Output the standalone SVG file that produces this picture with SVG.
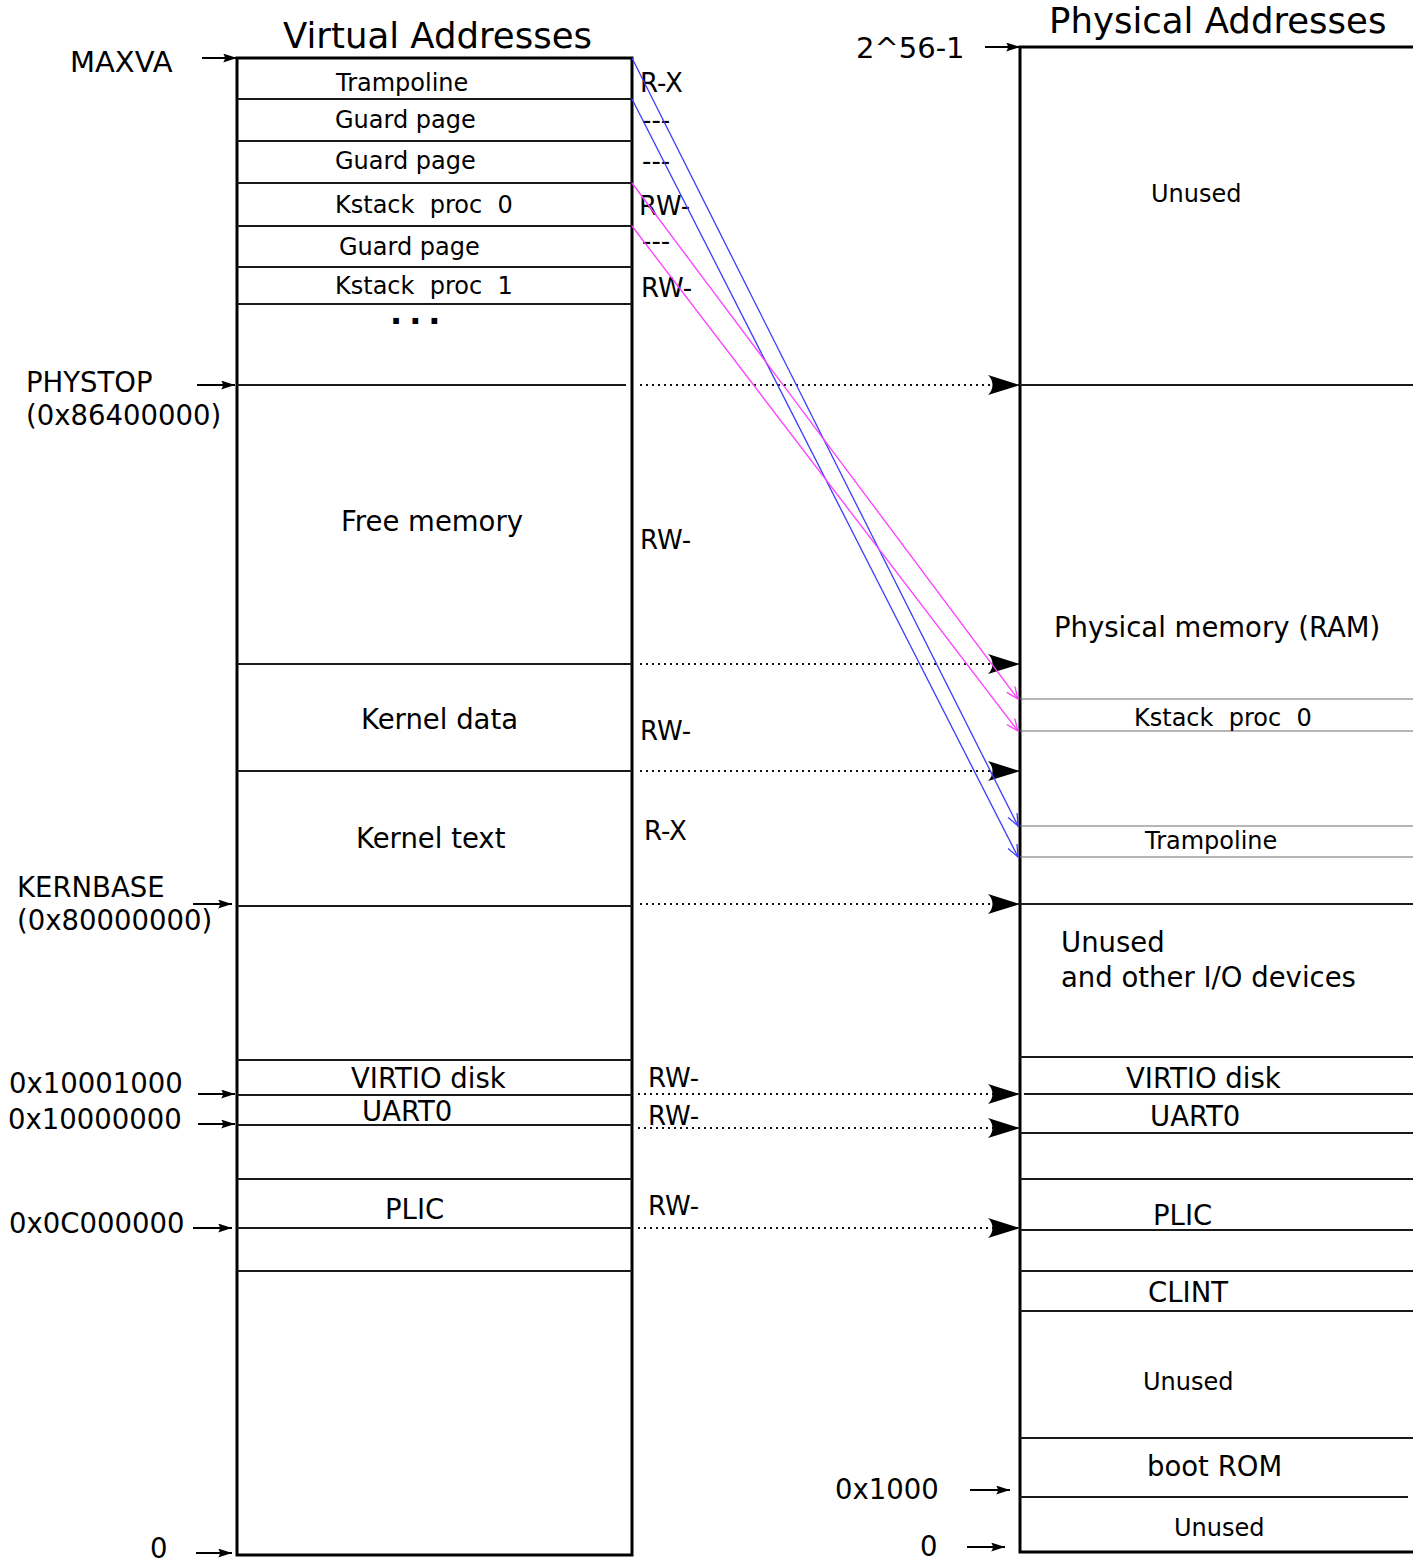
<svg xmlns="http://www.w3.org/2000/svg" width="1413" height="1562" viewBox="0 0 1413 1562">
<defs>
<style>
text { font-family: "DejaVu Sans", "Liberation Sans", sans-serif; fill: #000; }
.s24 { font-size: 24px; }
.s26 { font-size: 26px; }
.s27 { font-size: 27.5px; }
.s28 { font-size: 29px; }
.s35 { font-size: 35.5px; }
.frame { stroke: #000; stroke-width: 3; fill: none; }
.div { stroke: #1a1a1a; stroke-width: 2; fill: none; }
.thin { stroke: #6e6e6e; stroke-width: 1.2; fill: none; }
.dot { stroke: #111; stroke-width: 2.2; stroke-dasharray: 2 4; fill: none; marker-end: url(#big); }
.lbl { stroke: #000; stroke-width: 2; fill: none; marker-end: url(#small); }
.blue { stroke: #3c3cff; stroke-width: 1.3; fill: none; marker-end: url(#vb); }
.mag { stroke: #ff3cff; stroke-width: 1.3; fill: none; marker-end: url(#vm); }
</style>
<marker id="big" markerUnits="userSpaceOnUse" viewBox="0 0 32 20" refX="32" refY="10" markerWidth="32" markerHeight="20" orient="auto">
<path d="M32,10 L0,0 C6,6 6,14 0,20 Z" fill="#000"/>
</marker>
<marker id="small" markerUnits="userSpaceOnUse" viewBox="0 0 14 9" refX="14" refY="4.5" markerWidth="14" markerHeight="9" orient="auto">
<path d="M14,4.5 L0,0 C2.5,3 2.5,6 0,9 Z" fill="#000"/>
</marker>
<marker id="vb" markerUnits="userSpaceOnUse" viewBox="0 0 14 12" refX="13" refY="6" markerWidth="14" markerHeight="12" orient="auto">
<path d="M1,1 L13,6 L1,11" fill="none" stroke="#3c3cff" stroke-width="1.3"/>
</marker>
<marker id="vm" markerUnits="userSpaceOnUse" viewBox="0 0 14 12" refX="13" refY="6" markerWidth="14" markerHeight="12" orient="auto">
<path d="M1,1 L13,6 L1,11" fill="none" stroke="#ff3cff" stroke-width="1.3"/>
</marker>
</defs>
<rect width="1413" height="1562" fill="#fff"/>

<g id="titles">
<text class="s35" x="283" y="48">Virtual Addresses</text>
<text class="s35" x="1049" y="33">Physical Addresses</text>
</g>

<g id="virtual-column">
<rect class="frame" x="237" y="58" width="395" height="1497"/>
<path class="div" d="M237,99H632 M237,141H632 M237,183H632 M237,226H632 M237,267H632 M237,304H632 M237,385H626 M237,664H632 M237,771H632 M237,906H632 M237,1060H632 M237,1095H632 M237,1125H632 M237,1179H632 M237,1228H632 M237,1271H632"/>
</g>

<g id="va-trampoline"><text class="s24" x="336" y="91">Trampoline</text><text class="s26" x="640" y="92">R-X</text></g>
<g id="va-guard1"><text class="s24" x="335" y="128">Guard page</text><text class="s26" x="642" y="129">---</text></g>
<g id="va-guard2"><text class="s24" x="335" y="169">Guard page</text><text class="s26" x="642" y="170">---</text></g>
<g id="va-kstack0"><text class="s24" x="335" y="213" xml:space="preserve">Kstack  proc  0</text><text class="s26" x="639" y="215">RW-</text></g>
<g id="va-guard3"><text class="s24" x="339" y="255">Guard page</text><text class="s26" x="642" y="250">---</text></g>
<g id="va-kstack1"><text class="s24" x="335" y="294" xml:space="preserve">Kstack  proc  1</text><text class="s26" x="641" y="297">RW-</text></g>
<g id="va-more"><text x="390" y="324" font-size="32" font-weight="bold" letter-spacing="7">...</text></g>
<g id="va-free"><text class="s27" x="341" y="531">Free memory</text><text class="s26" x="640" y="549">RW-</text></g>
<g id="va-kdata"><text class="s27" x="361" y="729">Kernel data</text><text class="s26" x="640" y="740">RW-</text></g>
<g id="va-ktext"><text class="s27" x="356" y="848">Kernel text</text><text class="s26" x="644" y="840">R-X</text></g>
<g id="va-virtio"><text class="s27" x="351" y="1088">VIRTIO disk</text><text class="s26" x="648" y="1087">RW-</text></g>
<g id="va-uart"><text class="s27" x="362" y="1121">UART0</text><text class="s26" x="648" y="1125">RW-</text></g>
<g id="va-plic"><text class="s27" x="385" y="1219">PLIC</text><text class="s26" x="648" y="1215">RW-</text></g>

<g id="va-addresses">
<text class="s28" x="70" y="72">MAXVA</text>
<text class="s27" x="26" y="392">PHYSTOP</text>
<text class="s27" x="26" y="425">(0x86400000)</text>
<text class="s27" x="17" y="897">KERNBASE</text>
<text class="s27" x="17" y="930">(0x80000000)</text>
<text class="s27" x="9" y="1093">0x10001000</text>
<text class="s27" x="8" y="1129">0x10000000</text>
<text class="s27" x="9" y="1233">0x0C000000</text>
<text class="s27" x="150" y="1558">0</text>
</g>

<g id="physical-column">
<path class="frame" d="M1413,47H1020V1552H1413"/>
<path class="div" d="M1020,385H1413 M1020,904H1413 M1020,1057H1413 M1020,1133H1413 M1020,1179H1413 M1020,1230H1413 M1020,1271H1413 M1020,1311H1413 M1020,1438H1413 M1020,1497H1408"/>
<path class="div" stroke-width="2.6" d="M1024,1094H1413"/>
<path class="thin" d="M1020,699H1413 M1020,731H1413 M1020,826H1413 M1020,857H1413"/>
</g>

<g id="pa-unused-top"><text class="s24" x="1151" y="202">Unused</text></g>
<g id="pa-ram"><text class="s27" x="1054" y="637">Physical memory (RAM)</text></g>
<g id="pa-kstack0"><text class="s24" x="1134" y="726" xml:space="preserve">Kstack  proc  0</text></g>
<g id="pa-trampoline"><text class="s24" x="1145" y="849">Trampoline</text></g>
<g id="pa-unused-io"><text class="s27" x="1061" y="952">Unused</text><text class="s27" x="1061" y="987">and other I/O devices</text></g>
<g id="pa-virtio"><text class="s27" x="1126" y="1088">VIRTIO disk</text></g>
<g id="pa-uart"><text class="s27" x="1150" y="1126">UART0</text></g>
<g id="pa-plic"><text class="s27" x="1153" y="1225">PLIC</text></g>
<g id="pa-clint"><text class="s27" x="1148" y="1302">CLINT</text></g>
<g id="pa-unused-mid"><text class="s24" x="1143" y="1390">Unused</text></g>
<g id="pa-bootrom"><text class="s27" x="1147" y="1476">boot ROM</text></g>
<g id="pa-unused-low"><text class="s24" x="1174" y="1536">Unused</text></g>

<g id="pa-addresses">
<text class="s28" x="856" y="58">2^56-1</text>
<text class="s27" x="835" y="1499">0x1000</text>
<text class="s27" x="920" y="1556">0</text>
</g>

<g id="connectors">
<path class="lbl" d="M202,58H237"/>
<path class="lbl" d="M197,385H235"/>
<path class="lbl" d="M193,904H232"/>
<path class="lbl" d="M198,1094H235"/>
<path class="lbl" d="M198,1124H235"/>
<path class="lbl" d="M193,1228H232"/>
<path class="lbl" d="M196,1553H232"/>
<path class="lbl" d="M985,47H1020"/>
<path class="lbl" d="M970,1490H1010"/>
<path class="lbl" d="M967,1547H1005"/>
<path class="dot" d="M640,385H1020"/>
<path class="dot" d="M640,664H1020"/>
<path class="dot" d="M640,771H1020"/>
<path class="dot" d="M640,904H1020"/>
<path class="dot" d="M638,1094H1020"/>
<path class="dot" d="M638,1128H1020"/>
<path class="dot" d="M638,1228H1020"/>
<path class="blue" d="M632,58L1018,826"/>
<path class="blue" d="M632,99L1018,857"/>
<path class="mag" d="M632,183L1018,699"/>
<path class="mag" d="M632,226L1018,731"/>
</g>
</svg>
